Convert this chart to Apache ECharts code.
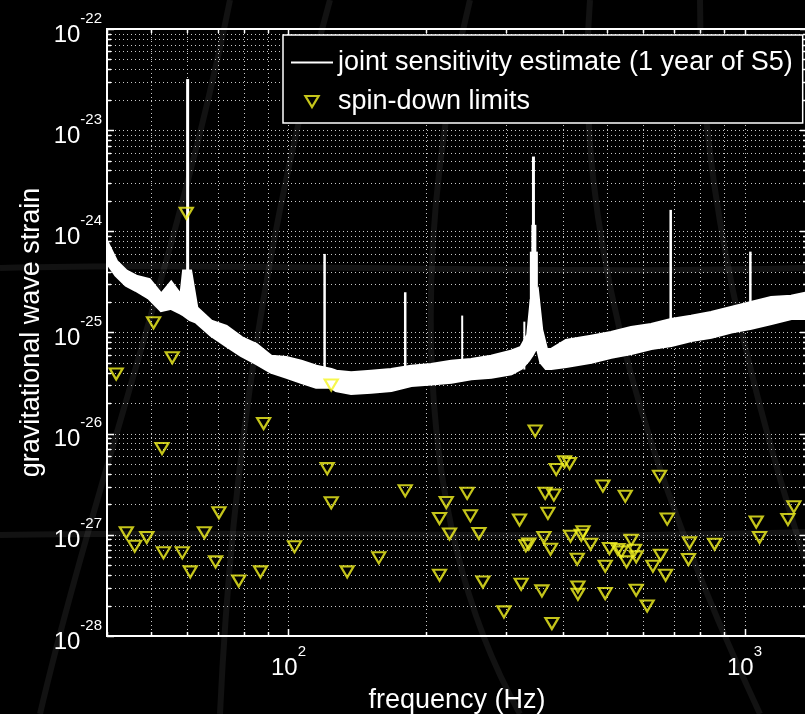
<!DOCTYPE html>
<html>
<head>
<meta charset="utf-8">
<script src="https://cdn.jsdelivr.net/npm/echarts@6/dist/echarts.min.js"></script>
<style>
  html, body { margin: 0; padding: 0; background: #000; }
  #chart { width: 805px; height: 714px; }
</style>
</head>
<body>
<div id="chart"></div>
<script>
// axis ranges and tick decades
const xMin = 40
const xMax = 1371
const yMin = 0.999e-28
const yMax = 1.001e-22
const xDecades = [10, 100, 1000]
const yDecades = [1e-28, 1e-27, 1e-26, 1e-25, 1e-24, 1e-23, 1e-22]

// joint sensitivity estimate: band (upper / lower edge)
const sensFreq = [40.0, 41.9, 44.1, 46.3, 49.5, 52.6, 55.3, 58.2, 59.0, 60.9, 62.8, 67.7, 73.0, 78.8,
  85.0, 91.6, 98.8, 106.6, 115.0, 124.1, 127.2, 137.2, 151.8, 168.0, 185.8, 205.6, 227.5, 251.6,
  278.4, 307.9, 323.8, 335.5, 341.4, 351.0, 358.3, 367.4, 376.9, 406.4, 461.1, 510.2, 564.3,
  624.4, 690.8, 764.0, 845.3, 935.2, 1034.4, 1144.5, 1266.3, 1380]
const sensUpper = [7.7e-25, 5.02e-25, 4.0e-25, 3.57e-25, 3.31e-25, 2.35e-25, 3.09e-25, 2.26e-25, 4.0e-25, 4.0e-25,
  1.75e-25, 1.28e-25, 1.14e-25, 8.83e-26, 7.52e-26, 5.76e-26, 5.60e-26, 5.14e-26, 4.59e-26, 4.26e-26,
  4.10e-26, 3.95e-26, 4.10e-26, 4.26e-26, 4.59e-26, 4.77e-26, 5.14e-26, 5.35e-26, 5.76e-26, 6.46e-26,
  7.03e-26, 9.45e-26, 2.10e-25, 2.52e-25, 1.06e-25, 6.71e-26, 6.71e-26, 8.24e-26, 9.09e-26, 9.89e-26,
  1.11e-25, 1.19e-25, 1.33e-25, 1.43e-25, 1.56e-25, 1.75e-25, 1.96e-25, 2.20e-25, 2.26e-25, 2.46e-25]
const sensLower = [5.0e-25, 3.71e-25, 2.95e-25, 2.64e-25, 2.20e-25, 1.67e-25, 1.75e-25, 1.56e-25, 1.5e-25, 1.35e-25,
  1.28e-25, 9.45e-26, 7.52e-26, 5.99e-26, 4.99e-26, 4.10e-26, 3.66e-26, 3.26e-26, 2.91e-26, 2.91e-26,
  2.70e-26, 2.52e-26, 2.60e-26, 2.70e-26, 3.02e-26, 3.14e-26, 3.26e-26, 3.52e-26, 3.66e-26, 3.95e-26,
  4.46e-26, 5.35e-26, 5.99e-26, 7.52e-26, 5.11e-26, 4.46e-26, 4.46e-26, 4.66e-26, 5.14e-26, 5.76e-26,
  6.27e-26, 7.03e-26, 7.52e-26, 8.43e-26, 9.09e-26, 1.02e-25, 1.11e-25, 1.24e-25, 1.39e-25, 1.39e-25]

// narrow lines in the sensitivity curve
const lineFreq = [60.1, 120.0, 180.3, 240.4, 329.0, 344.5, 345.2, 345.2, 688.9, 1030]
const lineTop = [3.2e-23, 5.98e-25, 2.5e-25, 1.47e-25, 1.28e-25, 5.49e-24, 1.16e-24, 6.3e-25, 1.63e-24, 6.3e-25]
const lineBase = [1.4e-25, 2.9e-26, 2.9e-26, 3.3e-26, 4.3e-26, 1e-25, 1e-25, 1e-25, 7.5e-26, 1.1e-25]

// spin-down limits
const pulsarFreq = [59.7, 50.6, 55.6, 41.9, 124.1, 88.2, 52.8, 121.6, 124.1, 70.4, 44.1, 65.4, 48.9, 46.0,
  103.1, 53.2, 58.5, 69.2, 157.8, 60.9, 86.8, 134.5, 77.8, 180.3, 246.5, 221.8, 214.4, 250.6, 225.5,
  261.6, 214.4, 266.9, 296.8, 323.8, 321.1, 331.5, 336.5, 363.2, 375.5, 359.5, 378.1, 370.6, 365.5,
  381.9, 386.4, 403.0, 413.3, 347.5, 415.4, 438.5, 442.3, 429.7, 431.2, 431.2, 459.6, 489.2, 494.9,
  494.9, 505.7, 527.7, 536.6, 547.6, 551.1, 564.3, 573.8, 578.7, 578.7, 611.7, 629.6, 654.5, 651.2,
  671.3, 677.0, 757.5, 753.7, 859.7, 1061, 1079, 1245, 1283]
const pulsarLimit = [1.51e-24, 1.25e-25, 5.63e-26, 3.89e-26, 3.02e-26, 1.26e-26, 7.15e-27, 4.51e-27, 2.07e-27,
  1.65e-27, 1.05e-27, 1.05e-27, 9.41e-28, 7.72e-28, 7.60e-28, 6.63e-28, 6.63e-28, 5.40e-28, 5.92e-28,
  4.30e-28, 4.30e-28, 4.30e-28, 3.50e-28, 2.72e-27, 2.57e-27, 2.09e-27, 1.45e-27, 1.54e-27, 1.02e-27,
  1.03e-27, 3.99e-28, 3.42e-28, 1.73e-28, 3.25e-28, 1.40e-27, 7.8e-28, 8.1e-28, 9.41e-28, 7.21e-28,
  2.79e-28, 1.33e-28, 1.63e-27, 2.57e-27, 2.47e-27, 4.43e-27, 5.27e-27, 5.08e-27, 1.06e-26, 9.70e-28,
  9.92e-28, 1.07e-27, 5.74e-28, 3.05e-28, 2.59e-28, 8.08e-28, 3.03e-27, 4.90e-28, 2.63e-28, 7.33e-28,
  7.16e-28, 6.78e-28, 2.41e-27, 5.40e-28, 8.85e-28, 7.05e-28, 6.05e-28, 2.83e-28, 1.98e-28, 4.90e-28,
  6.29e-28, 3.80e-27, 3.99e-28, 1.43e-27, 8.32e-28, 5.70e-28, 8.08e-28, 1.34e-27, 9.41e-28, 1.42e-27,
  1.89e-27]

const curveName = 'joint sensitivity estimate (1 year of S5)'
const limitName = 'spin-down limits'

const font = "'Liberation Sans', Arial, Helvetica, sans-serif"
const yellow = '#f5f520'
const lineWidths = [3, 2.5, 2.5, 2, 2, 3, 5, 8, 2.5, 2.5]

// grid lines at 1..9 x each decade
const xGrid = []
xDecades.forEach(d => { for (let m = 1; m <= 9; m++) { const v = m * d; if (v >= xMin && v <= xMax) xGrid.push(v) } })
const yGrid = []
yDecades.forEach(d => { for (let m = 1; m <= 9; m++) { const v = m * d; if (v >= yMin && v <= yMax) yGrid.push(v) } })

const isPow10 = v => {
  const l = Math.log10(v)
  return Math.abs(l - Math.round(l)) < 1e-6
}

const powLabel = v => isPow10(v) ? `{b|10}{e|${Math.round(Math.log10(v))}}` : ''

const dotted = { stroke: '#c8c8c8', lineWidth: 1, lineDash: [1, 3] }
const tickStyle = { stroke: '#fff', lineWidth: 1.5 }
const faint = { stroke: 'rgba(255,255,255,0.07)', lineWidth: 6, fill: null }

function renderXGrid (params, api) {
  const cs = params.coordSys
  const v = api.value(0)
  const x = Math.round(api.coord([v, yMin])[0]) + 0.5
  const len = isPow10(v) ? 7 : 4
  const bottom = cs.y + cs.height
  const children = [
    { type: 'line', shape: { x1: x, y1: bottom, x2: x, y2: bottom - len }, style: tickStyle },
    { type: 'line', shape: { x1: x, y1: cs.y, x2: x, y2: cs.y + len }, style: tickStyle },
  ]
  if (x > cs.x + 2 && x < cs.x + cs.width - 2) {
    children.unshift({ type: 'line', shape: { x1: x, y1: cs.y, x2: x, y2: bottom }, style: dotted })
  }
  return { type: 'group', children }
}

function renderYGrid (params, api) {
  const cs = params.coordSys
  const v = api.value(1)
  const y = Math.round(api.coord([xMin, v])[1]) + 0.5
  const len = isPow10(v) ? 7 : 4
  const right = cs.x + cs.width
  const children = [
    { type: 'line', shape: { x1: cs.x, y1: y, x2: cs.x + len, y2: y }, style: tickStyle },
    { type: 'line', shape: { x1: right, y1: y, x2: right - len, y2: y }, style: tickStyle },
  ]
  if (y > cs.y + 2 && y < cs.y + cs.height - 2) {
    children.unshift({ type: 'line', shape: { x1: cs.x, y1: y, x2: right, y2: y }, style: dotted })
  }
  return { type: 'group', children }
}

function renderBand (params, api) {
  if (params.dataIndex !== 0) return
  const pts = []
  for (let i = 0; i < sensFreq.length; i++) pts.push(api.coord([sensFreq[i], sensUpper[i]]))
  for (let i = sensFreq.length - 1; i >= 0; i--) pts.push(api.coord([sensFreq[i], sensLower[i]]))
  return { type: 'polygon', shape: { points: pts }, style: { fill: '#fff', stroke: '#fff', lineWidth: 4 } }
}

function renderLines (params, api) {
  const i = params.dataIndex
  const p0 = api.coord([api.value(0), api.value(2)])
  const p1 = api.coord([api.value(0), api.value(1)])
  return {
    type: 'line',
    shape: { x1: p0[0], y1: p0[1], x2: p1[0], y2: p1[1] },
    style: { stroke: '#fff', lineWidth: lineWidths[i] },
  }
}

const labelRich = {
  b: { fontSize: 24, color: '#fff', fontFamily: font, padding: [12, 0, 0, 0] },
  e: { fontSize: 15, color: '#fff', fontFamily: font, verticalAlign: 'top' },
}

const option = {
  backgroundColor: '#000',
  animation: false,
  // faint curved grid of the backdrop
  graphic: [
    { type: 'bezierCurve', silent: true, z: -10, shape: { x1: 0, y1: 268, x2: 805, y2: 268, cpx1: 250, cpy1: 262, cpx2: 550, cpy2: 275 }, style: faint },
    { type: 'bezierCurve', silent: true, z: -10, shape: { x1: 0, y1: 535, x2: 805, y2: 532, cpx1: 250, cpy1: 530, cpx2: 550, cpy2: 540 }, style: faint },
    { type: 'bezierCurve', silent: true, z: -10, shape: { x1: 0, y1: 745, x2: 805, y2: 740, cpx1: 250, cpy1: 742, cpx2: 550, cpy2: 748 }, style: faint },
    { type: 'bezierCurve', silent: true, z: -10, shape: { x1: 230, y1: 0, x2: 40, y2: 714, cpx1: 180, cpy1: 250, cpx2: 90, cpy2: 500 }, style: faint },
    { type: 'bezierCurve', silent: true, z: -10, shape: { x1: 330, y1: 0, x2: 220, y2: 714, cpx1: 260, cpy1: 250, cpx2: 230, cpy2: 500 }, style: faint },
    { type: 'bezierCurve', silent: true, z: -10, shape: { x1: 470, y1: 0, x2: 520, y2: 714, cpx1: 420, cpy1: 200, cpx2: 400, cpy2: 500 }, style: faint },
    { type: 'bezierCurve', silent: true, z: -10, shape: { x1: 590, y1: 0, x2: 760, y2: 714, cpx1: 570, cpy1: 250, cpx2: 660, cpy2: 500 }, style: faint },
    { type: 'bezierCurve', silent: true, z: -10, shape: { x1: 700, y1: 0, x2: 805, y2: 560, cpx1: 700, cpy1: 200, cpx2: 760, cpy2: 420 }, style: faint },
  ],
  grid: {
    left: 107, top: 29, width: 700, height: 607,
    containLabel: false, outerBoundsMode: 'none',
    show: true, borderColor: '#fff', borderWidth: 2, backgroundColor: 'transparent',
  },
  legend: {
    left: 283, top: 35,
    orient: 'vertical',
    backgroundColor: '#000',
    borderColor: '#fff', borderWidth: 1.5,
    padding: [14, 10, 8, 8],
    itemGap: 12, itemWidth: 42, itemHeight: 11,
    textStyle: { color: '#fff', fontSize: 27, fontFamily: font },
    data: [
      { name: curveName, icon: 'path://M0,0L42,0L42,2L0,2Z', itemStyle: { color: '#fff' } },
      { name: limitName, icon: 'path://M0,0L12,0L6,10Z',
        itemStyle: { color: 'rgba(0,0,0,0)', borderColor: yellow, borderWidth: 2.2 } },
    ],
  },
  xAxis: {
    type: 'log', logBase: 10, min: xMin, max: xMax,
    name: 'frequency (Hz)', nameLocation: 'middle', nameGap: 51, nameMoveOverlap: false,
    nameTextStyle: { color: '#fff', fontSize: 27, fontFamily: font },
    axisLine: { show: true, lineStyle: { color: '#fff', width: 2 } },
    axisTick: { show: false },
    splitLine: { show: false },
    axisLabel: { margin: 8, formatter: powLabel, rich: labelRich, showMinLabel: false, showMaxLabel: false },
  },
  yAxis: {
    type: 'log', logBase: 10, min: yMin, max: yMax, splitNumber: 6,
    name: 'gravitational wave strain', nameLocation: 'middle', nameGap: 62, nameMoveOverlap: false,
    nameTextStyle: { color: '#fff', fontSize: 27, fontFamily: font },
    axisLine: { show: true, lineStyle: { color: '#fff', width: 2 } },
    axisTick: { show: false },
    splitLine: { show: false },
    axisLabel: { margin: 5, formatter: powLabel, rich: labelRich, showMinLabel: true, showMaxLabel: true, hideOverlap: false },
  },
  series: [
    {
      type: 'custom', name: 'xgrid', silent: true, z: 1, clip: false,
      data: xGrid.map(v => [v, 1e-25]),
      renderItem: renderXGrid,
    },
    {
      type: 'custom', name: 'ygrid', silent: true, z: 1, clip: false,
      data: yGrid.map(v => [100, v]),
      renderItem: renderYGrid,
    },
    {
      type: 'custom', name: curveName, z: 2, clip: true,
      itemStyle: { color: '#fff' },
      data: sensFreq.map((f, i) => [f, sensUpper[i], sensLower[i]]),
      renderItem: renderBand,
    },
    {
      type: 'custom', name: 'lines', z: 3, clip: true,
      data: lineFreq.map((f, i) => [f, lineTop[i], lineBase[i]]),
      renderItem: renderLines,
    },
    {
      type: 'scatter', name: limitName, z: 5,
      symbol: 'triangle', symbolRotate: 180, symbolSize: [13, 11],
      itemStyle: { color: 'rgba(0,0,0,0)', borderColor: yellow, borderWidth: 2.2 },
      data: pulsarFreq.map((f, i) => [f, pulsarLimit[i]]),
    },
  ],
}

const chart = echarts.init(document.getElementById('chart'))
chart.setOption(option)
</script>
</body>
</html>
